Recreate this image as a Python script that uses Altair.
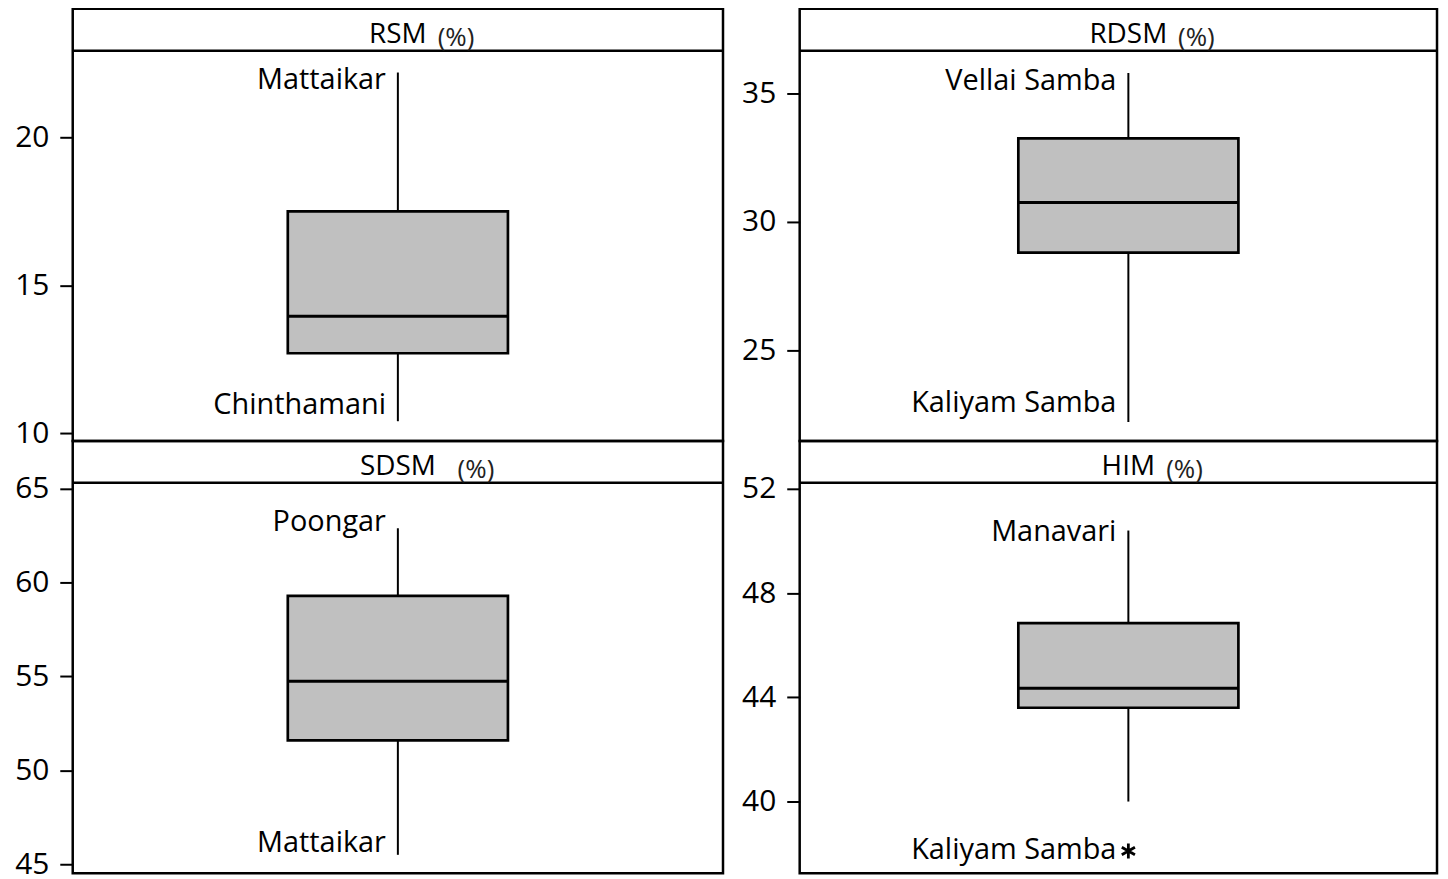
import altair as alt
import pandas as pd

# ---- data ----
panels = ["RSM", "RDSM", "SDSM", "HIM"]
whisker_low = [10.4, 22.2, 45.5, 40.0]
q1 = [12.7, 28.8, 51.6, 43.6]
median = [13.95, 30.75, 54.75, 44.35]
q3 = [17.5, 33.25, 59.3, 46.85]
whisker_high = [22.2, 35.8, 62.9, 50.4]
outlier = [None, None, None, 38.1]
high_label = ["Mattaikar", "Vellai Samba", "Poongar", "Manavari"]
low_label = ["Chinthamani", "Kaliyam Samba", "Mattaikar", "Kaliyam Samba"]
y_lo = [9.73, 21.46, 44.52, 37.25]
y_hi = [22.94, 36.67, 65.32, 52.23]
y_ticks = [[10, 15, 20], [25, 30, 35], [45, 50, 55, 60, 65], [40, 44, 48, 52]]

# ---- styling / layout ----
FONT = "Open Sans"
HEADER_H = 42
BODY_H = 392
PANEL_H = HEADER_H + BODY_H
widths = [653, 640, 653, 640]
band_pad = [0.977, 0.948, 0.977, 0.948]
band_align = [0.5, 0.524, 0.5, 0.524]
hdr_center = [326.5, 330, 326.5, 330]
top_dy = [8, 8, -6, 2]
bot_dy = [-16, -19, -12, -1]
pct_dx = [40, 50, 60, 38]

ASTERISK = "M0,-1L0,1M-0.87,-0.5L0.87,0.5M-0.87,0.5L0.87,-0.5"


def panel(i):
    lo, hi = y_lo[i], y_hi[i]
    full_hi = hi + (hi - lo) * HEADER_H / BODY_H
    low_at = outlier[i] if outlier[i] is not None else whisker_low[i]
    df = pd.DataFrame({
        "panel": [panels[i]],
        "unit": ["(%)"],
        "wlo": [whisker_low[i]],
        "q1": [q1[i]],
        "med": [median[i]],
        "q3": [q3[i]],
        "whi": [whisker_high[i]],
        "hl": [high_label[i]],
        "ll": [low_label[i]],
        "llat": [low_at],
    })
    base = alt.Chart(df)
    xenc = alt.X("panel:N", axis=None,
                 scale=alt.Scale(paddingInner=0, paddingOuter=band_pad[i],
                                 align=band_align[i]))
    yscale = alt.Scale(domain=[lo, full_hi], nice=False, zero=False)
    yaxis = alt.Axis(values=y_ticks[i], title=None, grid=False, domain=False,
                     tickSize=13, tickWidth=2, tickColor="black",
                     labelFont=FONT, labelFontSize=30, labelColor="black",
                     labelPadding=11)

    box = base.mark_bar(fill="#c0c0c0", stroke="black", strokeWidth=2.7).encode(
        x=xenc, y=alt.Y("q3:Q", scale=yscale, axis=yaxis), y2="q1:Q")
    med = base.mark_bar(fill="black", stroke="black", strokeWidth=3).encode(
        x=xenc, y="med:Q", y2="med:Q")
    w_hi = base.mark_rule(color="black", strokeWidth=2).encode(
        x=xenc, y="q3:Q", y2="whi:Q")
    w_lo = base.mark_rule(color="black", strokeWidth=2).encode(
        x=xenc, y="wlo:Q", y2="q1:Q")
    t_hi = base.mark_text(font=FONT, fontSize=29, align="right", baseline="middle",
                          dx=-12, dy=top_dy[i], color="black").encode(
        x=xenc, y="whi:Q", text="hl:N")
    t_lo = base.mark_text(font=FONT, fontSize=29, align="right", baseline="middle",
                          dx=-12, dy=bot_dy[i], color="black").encode(
        x=xenc, y="llat:Q", text="ll:N")
    layers = [box, w_hi, w_lo, med, t_hi, t_lo]
    if outlier[i] is not None:
        odf = pd.DataFrame({"panel": [panels[i]], "val": [outlier[i]]})
        pt = alt.Chart(odf).mark_point(shape=ASTERISK, size=230, filled=False,
                                       stroke="black", strokeWidth=2.8,
                                       opacity=1).encode(
            x=xenc, y="val:Q")
        layers.append(pt)

    # header strip
    hdr_line = base.mark_rule(color="black", strokeWidth=2.5).encode(
        x=alt.value(0), x2=alt.value(widths[i]), y=alt.value(HEADER_H))
    hdr_txt = base.mark_text(font=FONT, fontSize=28, baseline="alphabetic",
                             color="black").encode(
        text="panel:N", x=alt.value(hdr_center[i]), y=alt.value(34))
    hdr_unit = base.mark_text(font=FONT, fontSize=26, baseline="alphabetic",
                              align="left", dx=pct_dx[i], color="#222222").encode(
        text="unit:N", x=alt.value(hdr_center[i]), y=alt.value(37))
    layers += [hdr_line, hdr_txt, hdr_unit]

    return alt.layer(*layers).properties(width=widths[i], height=PANEL_H)


chart = alt.concat(
    panel(0), panel(1), panel(2), panel(3),
    columns=2, spacing={"row": 0, "column": 77}, bounds="flush",
).properties(
    padding={"left": 5, "top": -3, "right": 0, "bottom": 0}
).configure_view(
    stroke="black", strokeWidth=2.5
)

chart.save("out.html", embed_options={"renderer": "svg", "actions": False})
